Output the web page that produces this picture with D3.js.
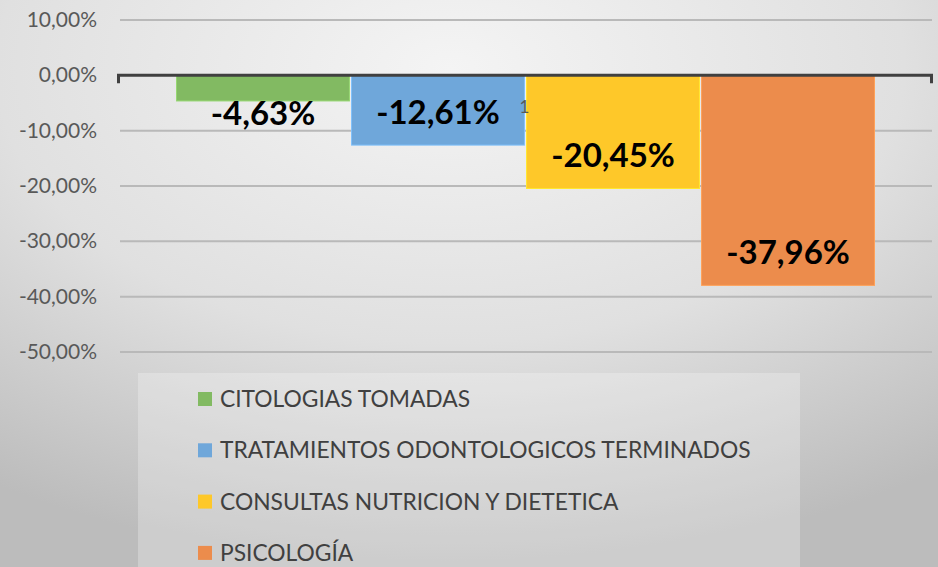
<!DOCTYPE html>
<html>
<head>
<meta charset="utf-8">
<script src="https://cdn.jsdelivr.net/npm/d3@7"></script>
<style>
  html, body { margin: 0; padding: 0; }
  body { width: 938px; height: 567px; overflow: hidden; }
  text { font-family: Lato, "Open Sans", sans-serif; }
</style>
</head>
<body>
<script>
// chart data
var series = ["CITOLOGIAS TOMADAS", "TRATAMIENTOS ODONTOLOGICOS TERMINADOS", "CONSULTAS NUTRICION Y DIETETICA", "PSICOLOGÍA"];
var values = [-4.63, -12.61, -20.45, -37.96];
var colors = ["#82ba62", "#6fa7da", "#fec829", "#ec8c4c"];
var categories = ["1"];
var yTicks = [10, 0, -10, -20, -30, -40, -50];

var W = 938, H = 567;
var plotLeft = 119, plotRight = 932, plotTop = 20, plotBottom = 352;

var fmt = function(v){ return d3.format(".2f")(v).replace(".", ",").replace("\u2212", "-") + "%"; };

var svg = d3.select("body").append("svg")
	.attr("width", W)
	.attr("height", H)

//BACKGROUND GRADIENT
var defs = svg.append("defs")
var grad = defs.append("radialGradient")
	.attr("id", "bg")
	.attr("cx", "48%").attr("cy", "12%").attr("r", "88%")
grad.append("stop").attr("offset", "0%").attr("stop-color", "#f4f4f4")
grad.append("stop").attr("offset", "55%").attr("stop-color", "#e0e0e0")
grad.append("stop").attr("offset", "100%").attr("stop-color", "#bcbcbc")

svg.append("rect")
	.attr("width", W).attr("height", H)
	.style("fill", "url(#bg)")

var y = d3.scaleLinear().domain([-50, 10]).range([plotBottom, plotTop])
var x0 = d3.scaleBand().domain(categories).range([plotLeft, plotRight]).paddingInner(0).paddingOuter(0.0824)
var x1 = d3.scaleBand().domain(series).range([x0("1"), x0("1") + x0.bandwidth()]).paddingInner(0.012).paddingOuter(0)

//GRIDLINES
svg.append("g").selectAll("line")
	.data(yTicks.filter(function(d){ return d != 0 }))
	.enter().append("line")
	.attr("x1", plotLeft + 1).attr("x2", plotRight)
	.attr("y1", function(d){ return y(d) }).attr("y2", function(d){ return y(d) })
	.style("stroke", "#b9b9b9")
	.style("stroke-width", 2)

//Y AXIS LABELS
svg.append("g").selectAll("text")
	.data(yTicks)
	.enter().append("text")
	.attr("x", 97)
	.attr("y", function(d){ return y(d) + 7 })
	.attr("text-anchor", "end")
	.style("font-size", "21px")
	.style("fill", "#595959")
	.text(function(d){ return fmt(d) })

//BARS
var bars = svg.append("g").selectAll("g")
	.data(values)
	.enter().append("g")

bars.append("rect")
	.attr("x", function(d, i){ return x1(series[i]) })
	.attr("width", x1.bandwidth())
	.attr("y", y(0))
	.attr("height", function(d){ return y(d) - y(0) })
	.style("fill", function(d, i){ return colors[i] })
	.style("stroke", function(d, i){ return d3.color(colors[i]).brighter(0.4) })
	.style("stroke-width", 1)

bars.append("text")
	.attr("x", function(d, i){ return x1(series[i]) + x1.bandwidth() / 2 })
	.attr("y", function(d){
		var h = y(d) - y(0)
		return h > 40 ? y(d) - 21 : y(d) + 24
	})
	.attr("text-anchor", "middle")
	.style("font-size", "33px")
	.style("font-weight", "bold")
	.style("fill", "#000")
	.text(function(d){ return fmt(d) })

//ZERO AXIS
svg.append("path")
	.attr("d", "M" + (plotLeft - 0.5) + "," + (y(0) + 8) + "V" + y(0) + "H" + (plotRight - 0.5) + "V" + (y(0) + 8))
	.style("fill", "none")
	.style("stroke", "#404040")
	.style("stroke-width", 3)

//CATEGORY LABEL
svg.append("text")
	.attr("x", x0("1") + x0.bandwidth() / 2 - 1)
	.attr("y", 113)
	.attr("text-anchor", "middle")
	.style("font-size", "17px")
	.style("fill", "#595959")
	.text(categories[0])

//LEGEND
var lg = svg.append("g")
lg.append("rect")
	.attr("x", 138).attr("y", 373)
	.attr("width", 662).attr("height", 200)
	.style("fill", "#ffffff")
	.style("fill-opacity", 0.25)

var item = lg.selectAll("g")
	.data(series)
	.enter().append("g")
	.attr("transform", function(d, i){ return "translate(198," + (399 + i * 51.3) + ")" })

item.append("rect")
	.attr("x", 0).attr("y", -7)
	.attr("width", 14).attr("height", 14)
	.style("fill", function(d, i){ return colors[i] })

item.append("text")
	.attr("x", 22)
	.attr("y", 8)
	.style("font-size", "22.8px")
	.style("fill", "#404040")
	.text(function(d){ return d })
</script>
</body>
</html>
